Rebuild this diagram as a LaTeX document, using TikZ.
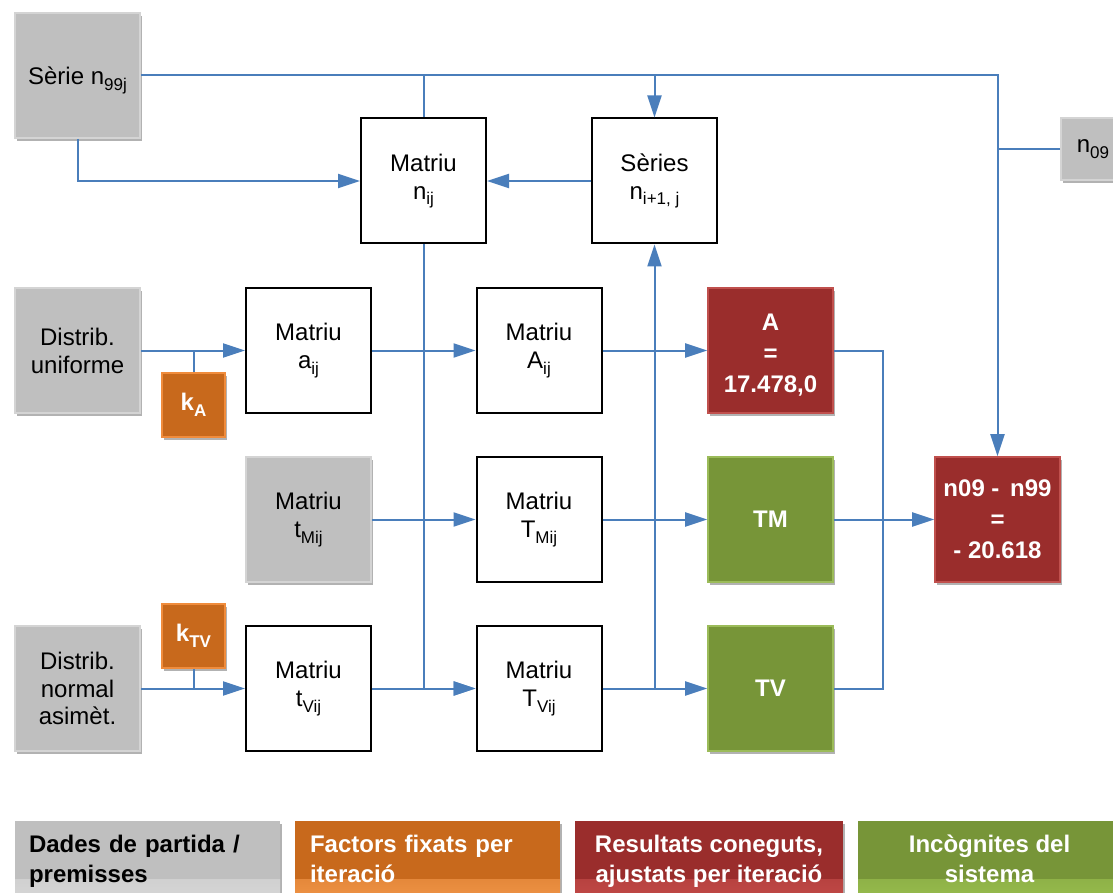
\documentclass[tikz,border=0pt]{standalone}
\usepackage{fontspec}
\setmainfont{Liberation Sans}
\usetikzlibrary{arrows.meta,shadows}
\definecolor{cgray}{HTML}{BFBFBF}
\definecolor{cgrayb}{HTML}{D4D4D4}
\definecolor{cgrayl}{HTML}{DADADA}
\definecolor{corange}{HTML}{C8691C}
\definecolor{corangeb}{HTML}{F08C3C}
\definecolor{corangel}{HTML}{F59A4C}
\definecolor{cred}{HTML}{9A2D2C}
\definecolor{credb}{HTML}{C0504D}
\definecolor{credl}{HTML}{C84E4B}
\definecolor{cgreen}{HTML}{779538}
\definecolor{cgreenb}{HTML}{9BBB59}
\definecolor{cgreenl}{HTML}{9CC250}
\definecolor{cblue}{HTML}{4A7EBB}
\newcommand\sbs[1]{\raisebox{-0.45ex}{\fontsize{8.5}{8.5}\selectfont #1}}
\newcommand\lowstrut{\rule[-9.2pt]{0pt}{19pt}}
\begin{document}
\begin{tikzpicture}[x=0.5pt,y=-0.5pt,
  font=\fontsize{12}{14}\selectfont,
  base/.style={align=center, inner sep=0pt, minimum width=62.5pt, minimum height=62.5pt},
  sdw/.style={drop shadow={shadow xshift=1.2pt, shadow yshift=-1.5pt, opacity=0.3, fill=black}},
  wbox/.style={base, draw=black, line width=1pt, fill=white},
  gbox/.style={base, fill=cgray, draw=cgrayb, line width=0.8pt, sdw},
  obox/.style={base, fill=corange, draw=corangeb, line width=0.8pt, sdw, text=white, font=\fontsize{12}{14}\selectfont\bfseries},
  rbox/.style={base, fill=cred, draw=credb, line width=0.8pt, sdw, text=white, font=\fontsize{12}{15.5}\selectfont\bfseries},
  grbox/.style={base, fill=cgreen, draw=cgreenb, line width=0.8pt, sdw, text=white, font=\fontsize{12}{15.5}\selectfont\bfseries},
  ln/.style={draw=cblue, line width=1pt},
  arr/.style={ln, -{Triangle[length=11pt,width=7pt]}},
  legbox/.style={inner ysep=0pt, minimum height=45.4pt, sdw, font=\fontsize{12}{14}\selectfont\bfseries,
    path picture={\shade[top color=#1, bottom color=#1l] ([yshift=16pt]path picture bounding box.south west) rectangle (path picture bounding box.south east);}},
]
\useasboundingbox (0,0) rectangle (1113,893);

% top row
\node[gbox] (s99) at (77.5,75.5) {\rule{0pt}{14pt}Sèrie n\sbs{99j}};
\node[wbox] (nij) at (423.5,181) {Matriu\\n\sbs{ij}};
\node[wbox] (ser) at (654.5,181) {Sèries\\n\sbs{i+1, j}};
\node[gbox, minimum width=32pt, minimum height=31pt] (n09) at (1093,149) {n\sbs{09}};

% row 1
\node[gbox] (du) at (77.5,350.5) {Distrib.\\uniforme};
\node[obox, minimum width=31.5pt, minimum height=32pt] (kA) at (193.5,405) {k\sbs{\bfseries A}};
\node[wbox] (aij) at (308.5,350.5) {Matriu\\a\sbs{ij}};
\node[wbox] (Aij) at (539,350.5) {Matriu\\A\sbs{ij}};
\node[rbox] (Ar) at (770.5,350.5) {\rule{0pt}{13pt}A\\=\\17.478,0};

% row 2
\node[gbox] (tM) at (308.5,519.5) {Matriu\\t\sbs{Mij}};
\node[wbox] (TM) at (539,519.5) {Matriu\\T\sbs{Mij}};
\node[grbox] (TMg) at (770.5,519.5) {TM};
\node[rbox] (nn) at (997.5,519.5) {n09 -\, n99\\=\\- 20.618};

% row 3
\node[gbox, font=\fontsize{12}{13.75}\selectfont] (dn) at (77.5,688.5) {Distrib.\\normal\\asimèt.};
\node[obox, minimum width=31.5pt, minimum height=32pt] (kTV) at (193.5,636) {k\sbs{\bfseries TV}};
\node[wbox] (tV) at (308.5,688.5) {Matriu\\t\sbs{Vij}};
\node[wbox] (TV) at (539,688.5) {Matriu\\T\sbs{Vij}};
\node[grbox] (TVg) at (770.5,688.5) {TV};

% connectors
\draw[arr] (s99.east) -| (nn.north);
\draw[ln] (s99.east -| nij.north) -- (nij.north);
\draw[arr] (s99.east -| ser.north) -- (ser.north);
\draw[ln] (n09.west) -- (n09.west -| nn.north);
\draw[arr] (s99.south) |- (nij.west);
\draw[arr] (ser.west) -- (nij.east);
\draw[arr] (nij.south) |- (TV.west);
\draw[arr] (TV.east -| ser.south) -- (ser.south);

\draw[arr] (du.east) -- (aij.west);
\draw[ln] (kA.north) -- (kA.north |- du.east);
\draw[arr] (aij.east) -- (Aij.west);
\draw[arr] (Aij.east) -- (Ar.west);

\draw[arr] (tM.east) -- (TM.west);
\draw[arr] (TM.east) -- (TMg.west);

\draw[arr] (dn.east) -- (tV.west);
\draw[ln] (kTV.south) -- (kTV.south |- dn.east);
\draw[arr] (tV.east) -- (TV.west);
\draw[arr] (TV.east) -- (TVg.west);

\coordinate (jx) at (883,519.5);
\draw[ln] (Ar.east) -| (jx);
\draw[ln] (TVg.east) -| (jx);
\draw[arr] (TMg.east) -- (nn.west);

% legend
\node[legbox=cgray, fill=cgray, text=black, align=left, inner xsep=7pt, text width=118.5pt] (l1) at (147.5,866.4)
  {\strut Dades de partida /\\\lowstrut premisses};
\node[legbox=corange, fill=corange, text=white, align=left, inner xsep=7.5pt, text width=117.5pt] (l2) at (427.5,866.4)
  {\strut Factors fixats per\\\lowstrut iteració};
\node[legbox=cred, fill=cred, text=white, align=center, inner xsep=0pt, minimum width=134pt] (l3) at (709,866.4)
  {\strut Resultats coneguts,\\\lowstrut ajustats per iteració};
\node[legbox=cgreen, fill=cgreen, text=white, align=center, inner xsep=0pt, minimum width=131.5pt] (l4) at (989.5,866.4)
  {\strut Incògnites del\\\lowstrut sistema};
\end{tikzpicture}
\end{document}
